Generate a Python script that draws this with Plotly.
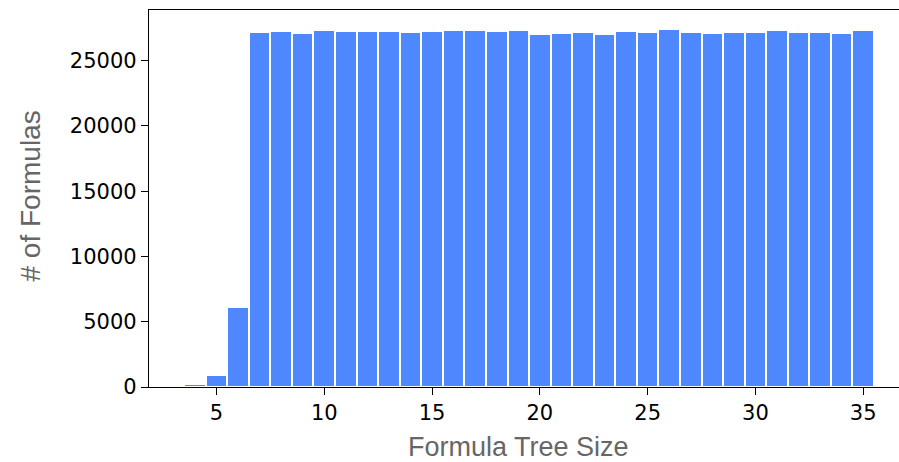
import plotly.graph_objects as go

tree_size = list(range(4, 36))
counts = [260, 950, 6120,
          27170, 27250, 27140, 27330, 27250, 27250, 27270, 27200, 27250, 27330, 27330, 27250, 27350,
          27070, 27120, 27200, 27070, 27250, 27200, 27400, 27200, 27140, 27220, 27220, 27350, 27200,
          27220, 27140, 27330]
x_ticks = [5, 10, 15, 20, 25, 30, 35]
y_ticks = [0, 5000, 10000, 15000, 20000, 25000]
y_tick_labels = [str(v) for v in y_ticks]

W, H = 899, 462
L, R, T, B = 149, 0, 10, 75
x_range = [1.87, 36.66]
y_range = [0, 28880]

fig = go.Figure(go.Bar(
    x=tree_size, y=counts, width=1.0,
    marker=dict(color="#4f87ff", line=dict(color="white", width=2)),
))

tick_font = dict(family="DejaVu Sans", size=21, color="black")
fig.update_layout(
    width=W, height=H,
    margin=dict(l=L, r=R, t=T, b=B, pad=0, autoexpand=False),
    plot_bgcolor="white", paper_bgcolor="white",
    bargap=0, showlegend=False,
    xaxis=dict(range=x_range, tickvals=x_ticks, ticks="outside", ticklen=7, tickwidth=1.3,
               tickcolor="black", showline=True, linecolor="black", linewidth=1.3,
               mirror=True, showgrid=False, zeroline=False, tickfont=tick_font,
               automargin=False),
    yaxis=dict(range=y_range, tickvals=y_ticks, ticktext=y_tick_labels, ticks="outside",
               ticklen=7, tickwidth=1.3,
               tickcolor="black", showline=True, linecolor="black", linewidth=1.3,
               showgrid=False, zeroline=False, tickfont=tick_font, automargin=False),
)

pw = W - L - R
ph = H - T - B
title_font = dict(family="Liberation Sans", size=27, color="#666666")
fig.add_annotation(text="Formula Tree Size", xref="paper", yref="paper",
                   x=(518.5 - L) / pw, y=-(447 - (T + ph)) / ph,
                   xanchor="center", yanchor="middle", showarrow=False, font=title_font)
fig.add_annotation(text="# of Formulas", xref="paper", yref="paper",
                   x=-(L - 30) / pw, y=(T + ph - 195.5) / ph,
                   xanchor="center", yanchor="middle", textangle=-90, showarrow=False,
                   font=dict(family="Liberation Sans", size=28, color="#666666"))

fig.write_html("out.html", config={"displayModeBar": False},
               post_script="document.body.style.margin='0px';document.body.style.overflow='hidden';")
